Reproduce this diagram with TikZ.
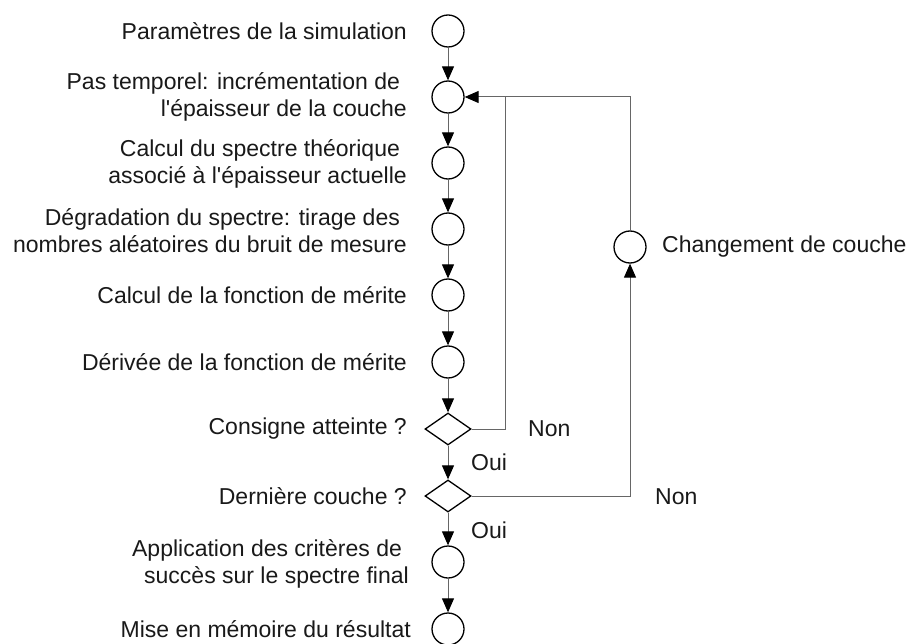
\documentclass[tikz,border=0pt]{standalone}
\usepackage{fontspec}
\newfontfamily\lib{Liberation Sans}
\usetikzlibrary{arrows.meta,shapes.geometric}
\begin{document}
\begin{tikzpicture}[x=1pt,y=-1pt,
  st/.style={circle,draw=black,line width=1.3pt,minimum size=32pt,inner sep=0pt},
  dec/.style={diamond,draw=black,line width=1.3pt,minimum width=46pt,minimum height=32pt,inner sep=0pt},
  lbl/.style={anchor=east,align=right,inner sep=0pt,font=\lib\fontsize{23}{27}\selectfont,text=black!90},
  txt/.style={anchor=west,inner sep=0pt,font=\lib\fontsize{23}{27}\selectfont,text=black!90},
  line/.style={draw=black!60,line width=1pt},
  conn/.style={line,-{Triangle[length=14pt,width=12pt,color=black]}},
]
\useasboundingbox (0,0) rectangle (909,644);
% main column
\node[st]  (c1) at (448,31)  {};
\node[st]  (c2) at (448,97)  {};
\node[st]  (c3) at (448,163) {};
\node[st]  (c4) at (448,229) {};
\node[st]  (c5) at (448,295) {};
\node[st]  (c6) at (448,362) {};
\node[dec] (d1) at (448,429) {};
\node[dec] (d2) at (448,496) {};
\node[st]  (c7) at (448,562) {};
\node[st]  (c8) at (448,629) {};
\node[st]  (cc) at (630,247) {};
% labels
\node[lbl] (l1) at (407,31)  {Paramètres de la simulation};
\node[lbl] (l2) at (407,97)  {Pas temporel: incrémentation de\hspace*{0.3em}\\l'épaisseur de la couche};
\node[lbl] (l3) at (407,164) {Calcul du spectre théorique\hspace*{0.3em}\\associé à l'épaisseur actuelle};
\node[lbl] (l4) at (407,231) {Dégradation du spectre: tirage des\hspace*{0.3em}\\nombres aléatoires du bruit de mesure};
\node[lbl] (l5) at (407,295) {Calcul de la fonction de mérite};
\node[lbl] (l6) at (407,362) {Dérivée de la fonction de mérite};
\node[lbl] (l7) at (407,429) {Consigne atteinte ?};
\node[lbl] (l8) at (407,496) {Dernière couche ?};
\node[lbl] (l9) at (409,564) {Application des critères de\hspace*{0.3em}\\succès sur le spectre final};
\node[lbl] (l10) at (411,629) {Mise en mémoire du résultat};
\node[txt] (lc) at (662,247) {Changement de couche};
\node[txt] (o1) at (471,462) {Oui};
\node[txt] (o2) at (471,530) {Oui};
\node[txt] (n1) at (528,429) {Non};
\node[txt] (n2) at (655,497) {Non};
% connectors
\draw[conn] (c1.south) -- (c2.north);
\draw[conn] (c2.south) -- (c3.north);
\draw[conn] (c3.south) -- (c4.north);
\draw[conn] (c4.south) -- (c5.north);
\draw[conn] (c5.south) -- (c6.north);
\draw[conn] (c6.south) -- (d1.north);
\draw[conn] (d1.south) -- (d2.north);
\draw[conn] (d2.south) -- (c7.north);
\draw[conn] (c7.south) -- (c8.north);
\coordinate (k1) at (505,97);
\draw[line] (d1.east) -| (k1);
\draw[conn] (cc.north) |- (c2.east);
\draw[conn] (d2.east) -| (cc.south);
\end{tikzpicture}
\end{document}
